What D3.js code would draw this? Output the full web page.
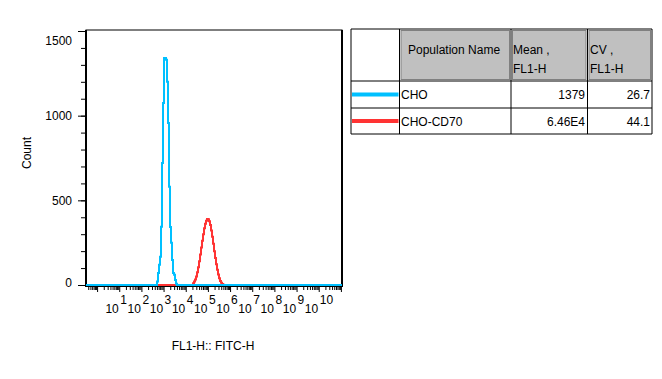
<!DOCTYPE html>
<html><head><meta charset="utf-8">
<script src="https://cdn.jsdelivr.net/npm/d3@7"></script>
<style>
html,body{margin:0;padding:0;background:#fff;}
svg{display:block;font-family:"Liberation Sans",Arial,sans-serif;}
</style></head>
<body>
<svg id="c" width="662" height="379"></svg>
<script>
// ---- data ----
const yTicks = [0, 500, 1000, 1500];
const xDecadeLabels = [1, 2, 3, 4, 5, 6, 7, 8, 9, 10];
const binWidthLog = 0.0451;           // histogram bin width in decades
const choFirstBinLog = 2.704;         // log10 of left edge of first CHO bin
const choCounts = [20, 71, 120, 167, 344, 720, 1075, 1340, 1340, 1330, 1200, 957, 580, 343, 250, 148, 71, 60, 30, 8];
const cd70FirstBinLog = 4.329;        // log10 of left edge of first CHO-CD70 bin
const cd70Counts = [10, 20, 32, 50, 75, 105, 140, 180, 222, 262, 300, 335, 362, 380, 390, 388, 376, 355, 322, 285, 243, 200, 160, 122, 90, 62, 40, 24, 13, 6, 2];
const populations = ["CHO", "CHO-CD70"];
const popColors = ["#00c0ff", "#ff3333"];
const headers = [["Population Name"], ["Mean ,", "FL1-H"], ["CV ,", "FL1-H"]];
const meanValues = ["1379", "6.46E4"];
const cvValues = ["26.7", "44.1"];

const svg = d3.select("#c");
const L = 86, R = 342, T = 30, B = 286;
const x = d3.scaleLog().domain([Math.pow(10, -0.5), Math.pow(10, 11.05)]).range([L, R]);
const y = d3.scaleLinear().domain([0, 1500]).range([285, 31]);

// frame
svg.append("rect").attr("x", L).attr("y", T).attr("width", R - L).attr("height", B - T)
  .attr("fill", "#fff").attr("stroke", "#000").attr("stroke-width", 1);
svg.append("line").attr("x1", L).attr("x2", L).attr("y1", T).attr("y2", B + 1).attr("stroke", "#000").attr("stroke-width", 2);
svg.append("line").attr("x1", R).attr("x2", R).attr("y1", T).attr("y2", B + 1).attr("stroke", "#000").attr("stroke-width", 2);
svg.append("line").attr("x1", L).attr("x2", R).attr("y1", B).attr("y2", B).attr("stroke", "#000").attr("stroke-width", 2);

// y axis
const yMinor = d3.range(0, 1501, 100);
const gyMinor = svg.append("g").attr("transform", `translate(${L - 1},0)`)
  .call(d3.axisLeft(y).tickValues(yMinor).tickSize(4).tickFormat(""));
gyMinor.select(".domain").remove();
const gy = svg.append("g").attr("transform", `translate(${L - 1},0)`)
  .call(d3.axisLeft(y).tickValues(yTicks).tickSize(7).tickPadding(6).tickFormat(d3.format("d")));
gy.select(".domain").remove();
gy.selectAll("text").attr("font-size", 12).attr("fill", "#000").style("font-family", "'Liberation Sans',Arial,sans-serif");
gy.selectAll(".tick").filter(d => d === 1500).select("text").attr("dy", "1.1em");
gy.selectAll(".tick").filter(d => d === 0).select("text").attr("dy", "0.1em");

// x axis ticks
const xMinor = [];
for (let n = -1; n <= 11; n++) for (let m = 1; m <= 9; m++) {
  const v = m * Math.pow(10, n);
  if (v >= x.domain()[0] && v <= x.domain()[1]) xMinor.push(v);
}
const gx = svg.append("g").attr("transform", `translate(0,${B + 1})`)
  .call(d3.axisBottom(x).tickValues(xMinor).tickSize(3).tickFormat(""));
gx.select(".domain").remove();
gx.selectAll(".tick line").attr("y2", d => (Math.abs(Math.log10(d) - Math.round(Math.log10(d))) < 1e-9 ? 5 : 3));

const lab = svg.append("g").attr("font-size", 12).attr("fill", "#000");
xDecadeLabels.forEach(e => {
  const px = x(Math.pow(10, e));
  lab.append("text").attr("x", px - 0.5).attr("y", 313).attr("text-anchor", "end").text("10");
  lab.append("text").attr("x", px + 1).attr("y", 304).attr("text-anchor", "start").text(e);
});

// histograms
function stepPoints(firstLog, counts) {
  const pts = [[x.domain()[0], 0]];
  counts.forEach((c, i) => pts.push([Math.pow(10, firstLog + i * binWidthLog), c]));
  pts.push([Math.pow(10, firstLog + counts.length * binWidthLog), 0]);
  pts.push([x.domain()[1], 0]);
  return pts;
}
const line = d3.line().x(d => x(d[0])).y(d => y(d[1])).curve(d3.curveStepAfter);
svg.append("path").datum(stepPoints(cd70FirstBinLog, cd70Counts)).attr("d", line)
  .attr("fill", "none").attr("stroke", popColors[1]).attr("stroke-width", 2);
svg.append("path").datum(stepPoints(choFirstBinLog, choCounts)).attr("d", line)
  .attr("fill", "none").attr("stroke", popColors[0]).attr("stroke-width", 2);

// axis titles
svg.append("text").attr("transform", "translate(31,153) rotate(-90)").attr("text-anchor", "middle")
  .attr("font-size", 12).text("Count");
svg.append("text").attr("x", 213).attr("y", 350).attr("text-anchor", "middle")
  .attr("font-size", 12).text("FL1-H:: FITC-H");

// table
const colX = [351, 399.5, 511, 587.5, 652];
const rowY = [29, 81, 108, 134];
const tb = svg.append("g");
tb.append("rect").attr("x", colX[0]).attr("y", rowY[0]).attr("width", colX[4] - colX[0]).attr("height", rowY[3] - rowY[0])
  .attr("fill", "#fff");
for (let c = 1; c <= 3; c++) {
  tb.append("rect").attr("x", colX[c] + 1.5).attr("y", rowY[0] + 1.5)
    .attr("width", colX[c + 1] - colX[c] - 3).attr("height", rowY[1] - rowY[0] - 3)
    .attr("fill", "#c0c0c0").attr("stroke", "#808080").attr("stroke-width", 1);
}
colX.forEach(cx => tb.append("line").attr("x1", cx).attr("x2", cx).attr("y1", rowY[0]).attr("y2", rowY[3]).attr("stroke", "#000"));
rowY.forEach(ry => tb.append("line").attr("x1", colX[0]).attr("x2", colX[4]).attr("y1", ry).attr("y2", ry).attr("stroke", "#000"));

const tt = tb.append("g").attr("font-size", 12).attr("fill", "#000");
tt.append("text").attr("x", 408).attr("y", 54).text(headers[0][0]);
headers[1].forEach((s, i) => tt.append("text").attr("x", 513).attr("y", 54 + i * 19).text(s));
headers[2].forEach((s, i) => tt.append("text").attr("x", 590).attr("y", 54 + i * 19).text(s));
populations.forEach((p, i) => {
  const cy = (rowY[i + 1] + rowY[i + 2]) / 2;
  tb.append("line").attr("x1", colX[0] + 1).attr("x2", colX[1] - 1).attr("y1", cy).attr("y2", cy)
    .attr("stroke", popColors[i]).attr("stroke-width", 4);
  tt.append("text").attr("x", 401).attr("y", cy + 4.5).text(p);
  tt.append("text").attr("x", 585).attr("y", cy + 4.5).attr("text-anchor", "end").text(meanValues[i]);
  tt.append("text").attr("x", 650).attr("y", cy + 4.5).attr("text-anchor", "end").text(cvValues[i]);
});
</script>
</body></html>
